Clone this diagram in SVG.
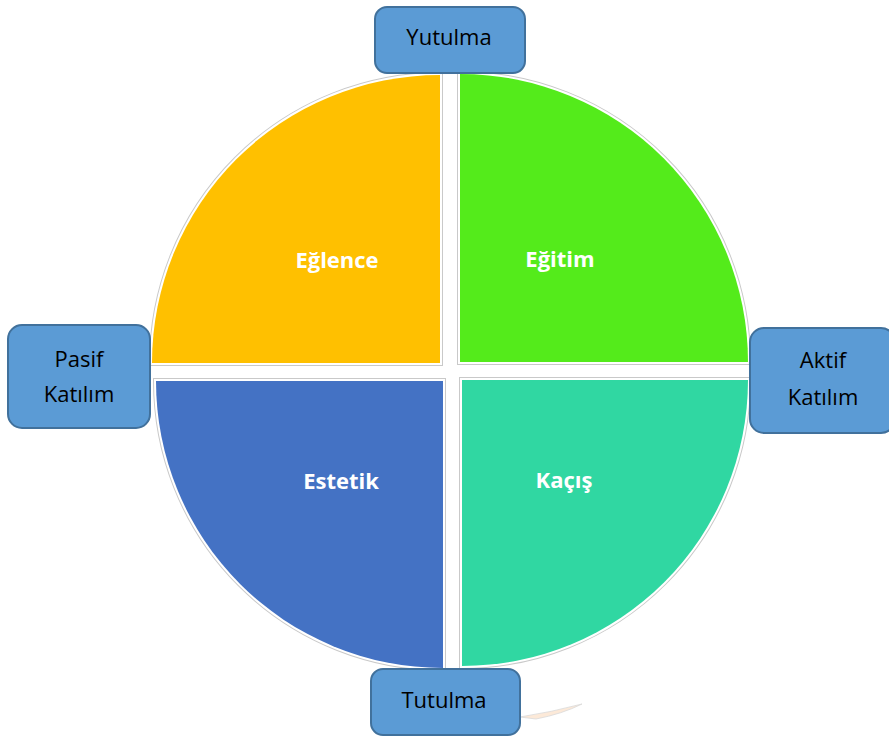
<svg xmlns="http://www.w3.org/2000/svg" width="889" height="738" viewBox="0 0 889 738">
  <style>
    .rim { fill: none; stroke: #c9c9c9; stroke-width: 6; stroke-linejoin: miter; }
    .gap { fill: none; stroke: #ffffff; stroke-width: 4; stroke-linejoin: miter; }
    .qlabel { font-family: "Open Sans", "Noto Sans", sans-serif; font-weight: bold; font-size: 22px; fill: #ffffff; text-anchor: middle; }
    .box { fill: #5B9BD5; stroke: #41719C; stroke-width: 2; }
    .blabel { font-family: "Open Sans", "Noto Sans", sans-serif; font-size: 22px; fill: #000000; text-anchor: middle; }
  </style>
  <defs>
    <path id="q-tl" d="M440,363 L152,363 A288,288 0 0 1 440,75 Z"/>
    <path id="q-tr" d="M460,362 L460,74 A288,288 0 0 1 748,362 Z"/>
    <path id="q-bl" d="M443,381 L443,668 A287,287 0 0 1 156,381 Z"/>
    <path id="q-br" d="M462,380 L748,380 A286,286 0 0 1 462,666 Z"/>
  </defs>
  <rect width="889" height="738" fill="#ffffff"/>

  <!-- four quarter sectors: grey rim, white gap, then the fill -->
  <g id="eglence">
    <use href="#q-tl" class="rim"/>
    <use href="#q-tl" class="gap"/>
    <use href="#q-tl" fill="#FFC000"/>
    <text class="qlabel" x="337" y="268">Eğlence</text>
  </g>
  <g id="egitim">
    <use href="#q-tr" class="rim"/>
    <use href="#q-tr" class="gap"/>
    <use href="#q-tr" fill="#54EB1B"/>
    <text class="qlabel" x="560" y="267">Eğitim</text>
  </g>
  <g id="estetik">
    <use href="#q-bl" class="rim"/>
    <use href="#q-bl" class="gap"/>
    <use href="#q-bl" fill="#4472C4"/>
    <text class="qlabel" x="341" y="489">Estetik</text>
  </g>
  <g id="kacis">
    <use href="#q-br" class="rim"/>
    <use href="#q-br" class="gap"/>
    <use href="#q-br" fill="#30D7A2"/>
    <text class="qlabel" x="564" y="488">Kaçış</text>
  </g>

  <!-- faint sliver below the circle -->
  <g id="sliver">
    <path d="M520,717 Q552,712 582,704 Q562,714 536,719 Z" fill="#FCE4CF" stroke="#d0d0d0" stroke-width="0.8" opacity="0.8"/>
  </g>

  <!-- axis labels -->
  <g id="yutulma">
    <rect class="box" x="375" y="7" width="150" height="66" rx="12"/>
    <text class="blabel" x="449" y="45">Yutulma</text>
  </g>
  <g id="pasif-katilim">
    <rect class="box" x="8" y="325" width="142" height="103" rx="14"/>
    <text class="blabel" x="79" y="367">Pasif</text>
    <text class="blabel" x="79" y="402">Katılım</text>
  </g>
  <g id="aktif-katilim">
    <rect class="box" x="750" y="328" width="145" height="105" rx="14"/>
    <text class="blabel" x="823" y="368">Aktif</text>
    <text class="blabel" x="823" y="405">Katılım</text>
  </g>
  <g id="tutulma">
    <rect class="box" x="371" y="669" width="149" height="66" rx="12"/>
    <text class="blabel" x="444" y="708">Tutulma</text>
  </g>
</svg>
